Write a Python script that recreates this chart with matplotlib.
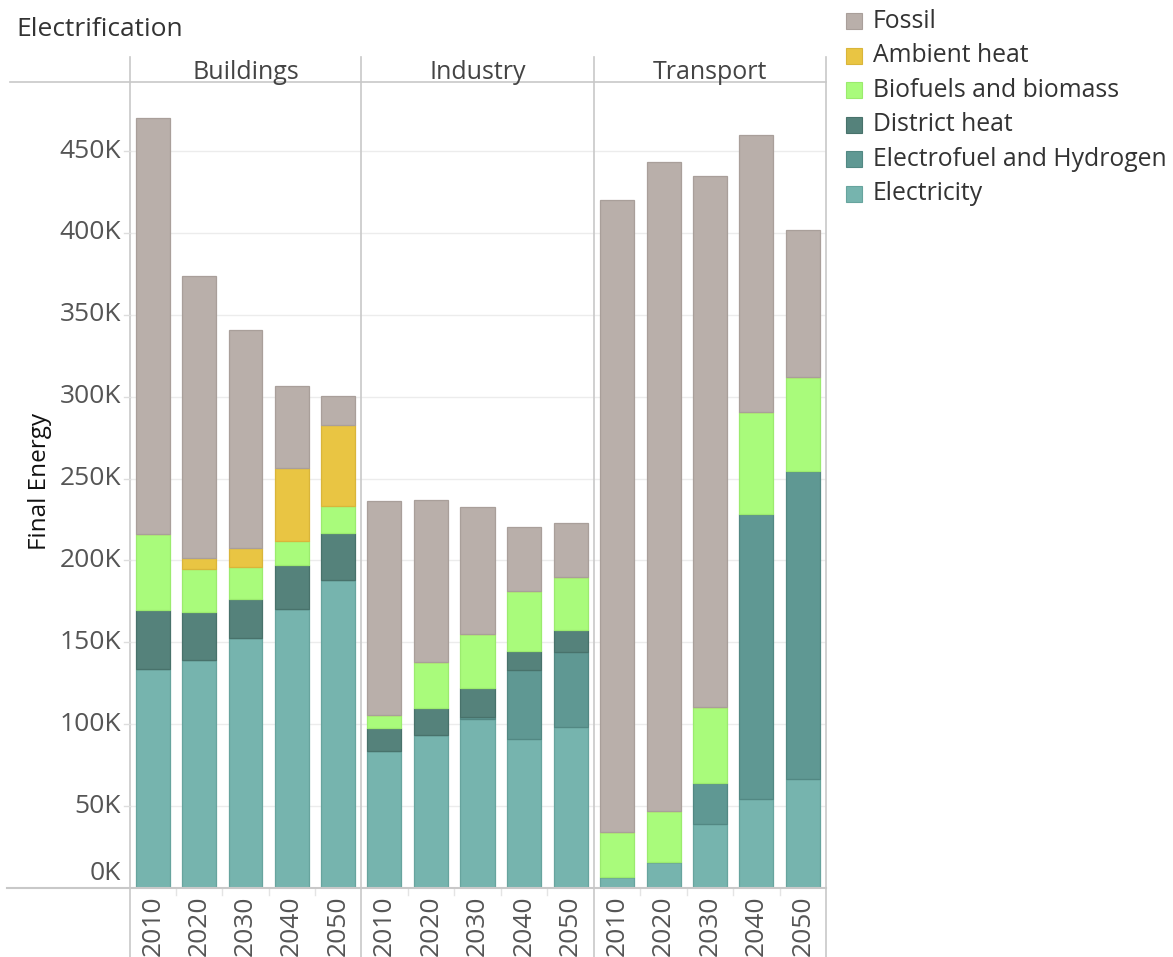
import matplotlib
matplotlib.use("Agg")
import matplotlib.pyplot as plt
from matplotlib.lines import Line2D
from matplotlib.patches import Rectangle
import numpy as np

plt.rcParams["font.family"] = ["Open Sans", "DejaVu Sans"]

# ── data (thousands) ────────────────────────────────────────────────────────
sectors = ["Buildings", "Industry", "Transport"]
years = ["2010", "2020", "2030", "2040", "2050"]
series = ["Electricity", "Electrofuel and Hydrogen", "District heat",
          "Biofuels and biomass", "Ambient heat", "Fossil"]

electricity = {"Buildings": [134, 139.4, 152.4, 170.6, 187.9],
               "Industry":  [83.9, 93.5, 103.4, 91.2, 98.6],
               "Transport": [6.7, 16.1, 39.1, 54.5, 66.6]}
electrofuel = {"Buildings": [0, 0, 0, 0, 0],
               "Industry":  [0, 0, 1.3, 42.1, 45.7],
               "Transport": [0, 0, 25.3, 173.8, 187.9]}
district_heat = {"Buildings": [36, 29.1, 24.3, 26.4, 29.1],
                 "Industry":  [13.5, 16.5, 17.2, 11.7, 13.4],
                 "Transport": [0, 0, 0, 0, 0]}
biofuels = {"Buildings": [46, 26.1, 19.5, 15, 16.5],
            "Industry":  [8.1, 27.8, 33.2, 36.1, 32.4],
            "Transport": [27.5, 30.8, 46.3, 62.3, 57.3]}
ambient_heat = {"Buildings": [0, 6.7, 11.3, 44.2, 49.5],
                "Industry":  [0, 0, 0, 0, 0],
                "Transport": [0, 0, 0, 0, 0]}
fossil = {"Buildings": [254, 172.3, 133, 50.1, 17.2],
          "Industry":  [130.9, 99.4, 77.6, 39.6, 32.8],
          "Transport": [385.8, 396.4, 324, 169.2, 89.9]}

stack = [electricity, electrofuel, district_heat, biofuels, ambient_heat, fossil]

colors = {"Electricity": "#76B4AE",
          "Electrofuel and Hydrogen": "#5F9893",
          "District heat": "#55827B",
          "Biofuels and biomass": "#A9FB7B",
          "Ambient heat": "#E9C543",
          "Fossil": "#B9AFAA"}
edges = {"Electricity": "#67A49E",
         "Electrofuel and Hydrogen": "#528883",
         "District heat": "#48726B",
         "Biofuels and biomass": "#9BEB6E",
         "Ambient heat": "#D9B53A",
         "Fossil": "#A99F9A"}

# ── canvas ──────────────────────────────────────────────────────────────────
W, H = 1173, 957
fig = plt.figure(figsize=(W / 100, H / 100), dpi=100)

def fx(px):
    return px / W

def fy(py):
    return 1 - py / H

TOP, BASE = 82, 888
edges_x = [130, 361, 594, 826]
ymax = (BASE - TOP) / ((BASE - 151) / 450)
GRID = "#ececec"
LINE = "#c8c8c8"
TXT = "#555555"

for i, sec in enumerate(sectors):
    x0, x1 = edges_x[i], edges_x[i + 1]
    ax = fig.add_axes([fx(x0), fy(BASE), fx(x1 - x0), (BASE - TOP) / H])
    ax.set_xlim(-0.5, 4.5)
    ax.set_ylim(0, ymax)
    for s in ax.spines.values():
        s.set_visible(False)
    ax.set_xticks([])
    ax.set_yticks([])
    for v in range(50, 500, 50):
        ax.axhline(v, color=GRID, lw=1, zorder=0)
    xs = np.arange(len(years))
    bottom = np.zeros(len(years))
    for name, d in zip(series, stack):
        vals = np.array(d[sec], dtype=float)
        ax.bar(xs, vals, 0.73, bottom=bottom, color=colors[name],
               edgecolor=edges[name], linewidth=0.9, zorder=2)
        bottom += vals
    # year labels
    for k, yr in enumerate(years):
        xp = x0 + (x1 - x0) * (k + 0.5) / len(years)
        fig.text(fx(xp), fy(896), yr, rotation=90, ha="center", va="top",
                 fontsize=19, color=TXT)
        if k > 0:
            xb = x0 + (x1 - x0) * k / len(years)
            fig.add_artist(Line2D([fx(xb), fx(xb)], [fy(888), fy(895)],
                                  color="#e4e4e4", lw=1))
    # sector headers
    fig.text(fx((x0 + x1) / 2), fy(79), sec, ha="center", va="baseline",
             fontsize=18, color="#444444")

# ── frame lines ─────────────────────────────────────────────────────────────
for xb in edges_x:
    fig.add_artist(Line2D([fx(xb), fx(xb)], [fy(57), fy(957)], color=LINE, lw=1.2))
fig.add_artist(Line2D([fx(10), fx(826)], [fy(TOP), fy(TOP)], color=LINE, lw=1.2))
fig.add_artist(Line2D([fx(7), fx(826)], [fy(BASE), fy(BASE)], color=LINE, lw=1.5))

# ── y axis labels ───────────────────────────────────────────────────────────
px_per_k = (BASE - 151) / 450
for v in range(0, 500, 50):
    yp = BASE - v * px_per_k
    ylab = yp if v > 0 else BASE - 14
    fig.text(fx(121), fy(ylab), f"{v}K", ha="right", va="center",
             fontsize=19, color=TXT)
    if v > 0:
        fig.add_artist(Line2D([fx(124), fx(130)], [fy(yp), fy(yp)],
                              color="#dddddd", lw=1))

fig.text(fx(40), fy(482), "Final Energy", rotation=90, ha="center",
         va="center", fontsize=17.5, color="#111111", fontweight="medium")
fig.text(fx(16), fy(30), "Electrification", ha="left", va="center",
         fontsize=19, color="#333333")

# ── legend ──────────────────────────────────────────────────────────────────
legend_order = ["Fossil", "Ambient heat", "Biofuels and biomass",
                "District heat", "Electrofuel and Hydrogen", "Electricity"]
for j, name in enumerate(legend_order):
    yc = 21 + j * 34.6
    fig.add_artist(Rectangle((fx(846), fy(yc + 8)), fx(16), 16 / H,
                             facecolor=colors[name], edgecolor=edges[name],
                             lw=0.8, transform=fig.transFigure))
    fig.text(fx(873), fy(yc), name, ha="left", va="center",
             fontsize=17.8, color="#333333")

fig.savefig("out.png", dpi=100)
